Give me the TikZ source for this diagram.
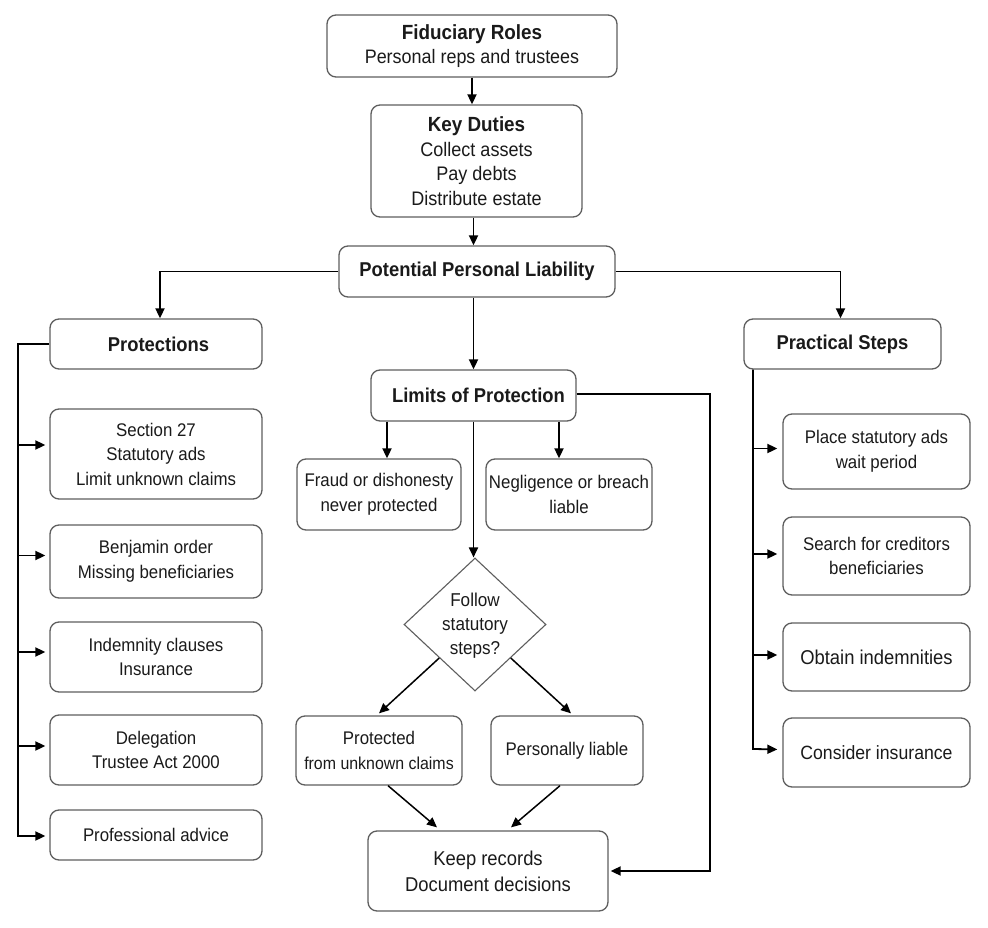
\documentclass[tikz,border=0pt]{standalone}
\usepackage{fontspec}
\setmainfont[FakeStretch=0.92]{Liberation Sans}
\usetikzlibrary{shapes.geometric,arrows.meta,calc}
\definecolor{bd}{HTML}{5E5E5E}
\definecolor{tx}{HTML}{1A1A1A}
\begin{document}
\begin{tikzpicture}[x=1pt,y=-1pt,
  box/.style={draw=bd, line width=1.3pt, rounded corners=9pt, fill=white, align=center,
    inner sep=1pt, text=tx, font=\fontsize{18.3}{24.5}\selectfont},
  ttl/.style={font=\fontsize{20}{24.5}\selectfont\bfseries},
  big/.style={font=\fontsize{20}{26}\selectfont},
  arr/.style={line width=1.8pt, -{Triangle[length=10pt,width=9pt]}},
  ln/.style={line width=1.8pt}]
\useasboundingbox[fill=white] (0,0) rectangle (988,928);

% top chain
\node[box, font=\fontsize{19.5}{24.5}\selectfont, minimum width=290pt, minimum height=62pt] (fid) at (472,46)
  {\textbf{\fontsize{20.5}{24.5}\selectfont Fiduciary Roles}\\Personal reps and trustees};
\node[box, font=\fontsize{19.6}{24.5}\selectfont, minimum width=211pt, minimum height=112pt] (key) at (476.5,161)
  {\textbf{\fontsize{20.5}{24.5}\selectfont Key Duties}\\Collect assets\\Pay debts\\Distribute estate};
\node[box, ttl, minimum width=276pt, minimum height=51pt] (pot) at (477,271.5)
  {Potential Personal Liability};

% second level
\node[box, ttl, minimum width=212pt, minimum height=50pt] (prot) at (156,344) {\hspace*{5pt}Protections};
\node[box, ttl, minimum width=205pt, minimum height=51pt] (lim) at (473.5,395.5) {\hspace*{10pt}Limits of Protection};
\node[box, ttl, minimum width=197pt, minimum height=50pt] (prac) at (842.5,344) {Practical Steps};

% protections children
\node[box, minimum width=212pt, minimum height=90pt] (s27) at (156,454)
  {Section 27\\Statutory ads\\Limit unknown claims};
\node[box, minimum width=212pt, minimum height=73pt] (ben) at (156,561.5)
  {Benjamin order\\Missing beneficiaries};
\node[box, minimum width=212pt, minimum height=70pt] (ind) at (156,657)
  {Indemnity clauses\\Insurance};
\node[box, minimum width=212pt, minimum height=70pt] (del) at (156,750)
  {Delegation\\Trustee Act 2000};
\node[box, minimum width=212pt, minimum height=50pt] (pro) at (156,835)
  {Professional advice};

% limits children
\node[box, minimum width=164pt, minimum height=71pt] (fraud) at (379,494.5)
  {Fraud or dishonesty\\never protected};
\node[box, minimum width=166pt, minimum height=71pt] (neg) at (569,494.5)
  {Negligence or breach\\liable};
\node[diamond, draw=bd, line width=1.1pt, fill=white, inner sep=0pt,
  minimum width=142pt, minimum height=133pt] (dia) at (475,624.5) {};
\node[align=center, text=tx, font=\fontsize{18.6}{24}\selectfont] (diat) at (475,626)
  {Follow\\statutory\\steps?};
\node[box, minimum width=166pt, minimum height=69pt] (safe) at (379,750.5)
  {Protected\\{\fontsize{17.3}{24.5}\selectfont from unknown claims}};
\node[box, minimum width=152pt, minimum height=69pt] (liab) at (567,750.5)
  {Personally liable};
\node[box, big, minimum width=240pt, minimum height=80pt] (keep) at (488,871)
  {Keep records\\Document decisions};

% practical children
\node[box, minimum width=187pt, minimum height=75pt] (place) at (876.5,451.5)
  {Place statutory ads\\wait period};
\node[box, minimum width=187pt, minimum height=78pt] (search) at (876.5,556)
  {Search for creditors\\beneficiaries};
\node[box, big, minimum width=187pt, minimum height=68pt] (obt) at (876.5,657)
  {Obtain indemnities};
\node[box, font=\fontsize{19.2}{24.5}\selectfont, minimum width=187pt, minimum height=69pt] (cons) at (876.5,752.5)
  {Consider insurance};

% connectors: top chain
\draw[arr] (fid.south) -- (fid.south |- key.north);
\draw[arr] (key.south -| lim.north) -- (pot.north -| lim.north);
\draw[arr] (pot.west) -| ([xshift=4pt]prot.north);
\draw[arr] (pot.east) -| ([xshift=-2pt]prac.north);
\draw[arr] (pot.south -| lim.north) -- (lim.north);

% protections bus
\coordinate (pbus) at (18,836);
\draw[arr, shorten >=4pt] (prot.west) -| (pbus) -- (pbus -| pro.west);
\draw[arr, shorten >=4pt] ([yshift=9pt]s27.west -| pbus) -- ([yshift=9pt]s27.west);
\draw[arr, shorten >=4pt] ([yshift=6pt]ben.west -| pbus) -- ([yshift=6pt]ben.west);
\draw[arr, shorten >=4pt] ([yshift=5pt]ind.west -| pbus) -- ([yshift=5pt]ind.west);
\draw[arr, shorten >=4pt] ([yshift=4pt]del.west -| pbus) -- ([yshift=4pt]del.west);

% practical bus
\coordinate (qbus) at (753,749);
\draw[arr, shorten >=5pt] (qbus |- prac.south) -- (qbus) -- ([yshift=3pt]cons.west);
\draw[arr, shorten >=5pt] ([yshift=3pt]place.west -| qbus) -- ([yshift=3pt]place.west);
\draw[arr, shorten >=5pt] ([yshift=2pt]search.west -| qbus) -- ([yshift=2pt]search.west);
\draw[arr, shorten >=5pt] ([yshift=2pt]obt.west -| qbus) -- ([yshift=2pt]obt.west);

% limits connectors
\draw[arr] ([xshift=8pt]fraud.north |- lim.south) -- ([xshift=8pt]fraud.north);
\draw[arr] ([xshift=-10pt]neg.north |- lim.south) -- ([xshift=-10pt]neg.north);
\draw[arr] (lim.south) -- (lim.south |- dia.north);
\draw[arr] ([yshift=1.5pt]lim.east) -- ++(133,0) |- ([xshift=2pt]keep.east);
\draw[arr, line width=1.5pt] (dia.south west) -- ([yshift=2pt]safe.north);
\draw[arr, line width=1.5pt] (dia.south east) -- ([xshift=4pt,yshift=2pt]liab.north);
\draw[arr, line width=1.5pt] ([xshift=9pt]safe.south) -- ([xshift=-51pt,yshift=3pt]keep.north);
\draw[arr, line width=1.5pt] ([xshift=-7pt]liab.south) -- ([xshift=23pt,yshift=3pt]keep.north);
\end{tikzpicture}
\end{document}
